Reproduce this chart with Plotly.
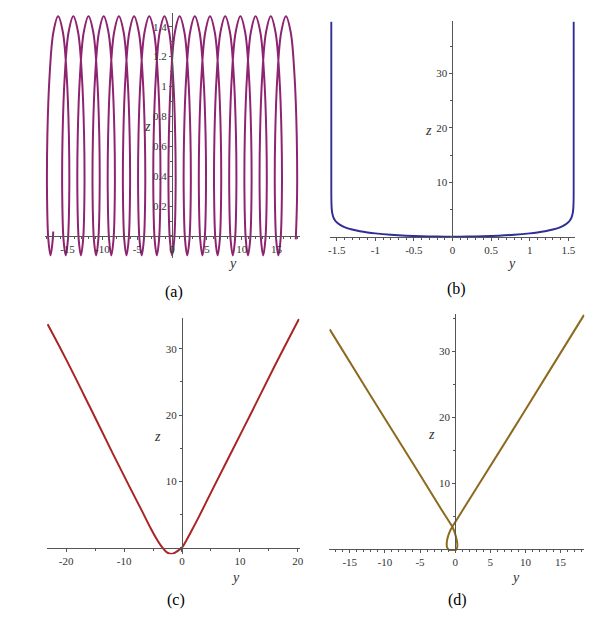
import plotly.graph_objects as go

# ---------------- data ----------------
# (a) looping curve
y_a = [
    -17.05, -17.121,
    -17.44, -17.758, -17.943, -17.895, -17.579, -17.032, -16.35, -15.668, -15.12, -14.805, -14.757, -14.941,
    -15.26, -15.578, -15.763, -15.715, -15.399, -14.852, -14.17, -13.488, -12.94, -12.625, -12.577, -12.761,
    -13.08, -13.398, -13.583, -13.535, -13.219, -12.672, -11.99, -11.308, -10.76, -10.445, -10.397, -10.581,
    -10.90, -11.218, -11.403, -11.355, -11.039, -10.492, -9.81, -9.128, -8.58, -8.265, -8.217, -8.401,
    -8.72, -9.038, -9.223, -9.175, -8.859, -8.312, -7.63, -6.948, -6.40, -6.085, -6.037, -6.221,
    -6.54, -6.858, -7.043, -6.995, -6.679, -6.132, -5.45, -4.768, -4.22, -3.905, -3.857, -4.041,
    -4.36, -4.678, -4.863, -4.815, -4.499, -3.952, -3.27, -2.588, -2.04, -1.725, -1.677, -1.861,
    -2.18, -2.498, -2.683, -2.635, -2.319, -1.772, -1.09, -0.408, 0.14, 0.455, 0.503, 0.319,
    0.0, -0.318, -0.503, -0.455, -0.139, 0.408, 1.09, 1.772, 2.32, 2.635, 2.683, 2.499,
    2.18, 1.862, 1.677, 1.725, 2.041, 2.588, 3.27, 3.952, 4.50, 4.815, 4.863, 4.679,
    4.36, 4.042, 3.857, 3.905, 4.221, 4.768, 5.45, 6.132, 6.68, 6.995, 7.043, 6.859,
    6.54, 6.222, 6.037, 6.085, 6.401, 6.948, 7.63, 8.312, 8.86, 9.175, 9.223, 9.039,
    8.72, 8.402, 8.217, 8.265, 8.581, 9.128, 9.81, 10.492, 11.04, 11.355, 11.403, 11.219,
    10.90, 10.582, 10.397, 10.445, 10.761, 11.308, 11.99, 12.672, 13.22, 13.535, 13.583, 13.399,
    13.08, 12.762, 12.577, 12.625, 12.941, 13.488, 14.17, 14.852, 15.40, 15.715, 15.763, 15.579,
    15.26, 14.942, 14.757, 14.805, 15.121, 15.668, 16.35, 17.032, 17.58, 17.895, 17.943, 17.759,
]
z_a = [
    0.03, -0.023,
    -0.13, -0.023, 0.27, 0.67, 1.07, 1.363, 1.47, 1.363, 1.07, 0.67, 0.27, -0.023,
    -0.13, -0.023, 0.27, 0.67, 1.07, 1.363, 1.47, 1.363, 1.07, 0.67, 0.27, -0.023,
    -0.13, -0.023, 0.27, 0.67, 1.07, 1.363, 1.47, 1.363, 1.07, 0.67, 0.27, -0.023,
    -0.13, -0.023, 0.27, 0.67, 1.07, 1.363, 1.47, 1.363, 1.07, 0.67, 0.27, -0.023,
    -0.13, -0.023, 0.27, 0.67, 1.07, 1.363, 1.47, 1.363, 1.07, 0.67, 0.27, -0.023,
    -0.13, -0.023, 0.27, 0.67, 1.07, 1.363, 1.47, 1.363, 1.07, 0.67, 0.27, -0.023,
    -0.13, -0.023, 0.27, 0.67, 1.07, 1.363, 1.47, 1.363, 1.07, 0.67, 0.27, -0.023,
    -0.13, -0.023, 0.27, 0.67, 1.07, 1.363, 1.47, 1.363, 1.07, 0.67, 0.27, -0.023,
    -0.13, -0.023, 0.27, 0.67, 1.07, 1.363, 1.47, 1.363, 1.07, 0.67, 0.27, -0.023,
    -0.13, -0.023, 0.27, 0.67, 1.07, 1.363, 1.47, 1.363, 1.07, 0.67, 0.27, -0.023,
    -0.13, -0.023, 0.27, 0.67, 1.07, 1.363, 1.47, 1.363, 1.07, 0.67, 0.27, -0.023,
    -0.13, -0.023, 0.27, 0.67, 1.07, 1.363, 1.47, 1.363, 1.07, 0.67, 0.27, -0.023,
    -0.13, -0.023, 0.27, 0.67, 1.07, 1.363, 1.47, 1.363, 1.07, 0.67, 0.27, -0.023,
    -0.13, -0.023, 0.27, 0.67, 1.07, 1.363, 1.47, 1.363, 1.07, 0.67, 0.27, -0.023,
    -0.13, -0.023, 0.27, 0.67, 1.07, 1.363, 1.47, 1.363, 1.07, 0.67, 0.27, -0.023,
    -0.13, -0.023, 0.27, 0.67, 1.07, 1.363, 1.47, 1.363, 1.07, 0.67, 0.27, -0.023,
]

# (b) U-shaped curve
y_b = [-1.5708, -1.5704, -1.569, -1.565, -1.555, -1.54, -1.52, -1.5, -1.45, -1.4, -1.3, -1.2,
       -1.1, -1.0, -0.8, -0.6, -0.4, -0.2, 0.0, 0.2, 0.4, 0.6, 0.8, 1.0, 1.1, 1.2, 1.3, 1.4,
       1.45, 1.5, 1.52, 1.54, 1.555, 1.565, 1.569, 1.5704, 1.5708]
z_b = [39.5, 7.83, 6.32, 5.15, 4.15, 3.48, 2.98, 2.65, 2.12, 1.77, 1.32, 1.015,
       0.79, 0.616, 0.361, 0.192, 0.082, 0.020, 0.0, 0.020, 0.082, 0.192, 0.361, 0.616, 0.79,
       1.015, 1.32, 1.77, 2.12, 2.65, 2.98, 3.48, 4.15, 5.15, 6.32, 7.83, 39.5]

# (c) V-shaped curve
y_c = [-23.2, -20.0, -16.0, -12.0, -9.0, -7.0, -5.5, -4.5, -3.5, -2.6, -1.9, -1.2, -0.6, 0.0,
       0.7, 1.5, 3.0, 5.0, 8.0, 12.0, 16.0, 20.2]
z_c = [33.7, 28.4, 21.4, 14.3, 9.1, 5.7, 3.1, 1.5, 0.15, -0.7, -0.95, -0.75, -0.4, 0.0,
       1.0, 2.3, 4.8, 8.3, 13.5, 20.4, 27.4, 34.5]

# (d) V-shaped curve with a loop
y_d = [-17.85, -12.0, -6.0, -2.0, -0.8, -0.4, -0.05, 0.22, 0.32, 0.2, -0.1, -0.5, -0.9,
       -1.15, -1.2, -1.05, -0.75, -0.4, 0.0, 1.0, 3.0, 8.0, 13.0, 18.35]
z_d = [33.3, 23.2, 13.0, 6.1, 4.1, 3.4, 2.5, 1.4, 0.6, 0.0, -0.2, -0.22, -0.1,
       0.3, 0.9, 1.8, 2.7, 3.4, 4.1, 5.8, 9.2, 17.7, 26.3, 35.5]

colors = {"a": "#8E2470", "b": "#2E2E96", "c": "#AA2424", "d": "#8C6A1E"}

# ---------------- layout helpers ----------------
OFF = 8                      # default page body margin
W, H = 611 - 2 * OFF, 620 - 2 * OFF
SERIF = "Times New Roman, Liberation Serif, serif"
AX = "#555555"


def px_x(px):
    return (px - OFF) / W


def px_y(py):
    return 1 - (py - OFF) / H


def xdom(left, right):
    return [px_x(left), px_x(right)]


def ydom(top, bottom):
    return [px_y(bottom), px_y(top)]


panels = {
    # name: (px box left,right,top,bottom in reference pixels), x range, z range
    "a": ((42.9, 300.5, 13.2, 258.4), [-18.3, 18.3], [-0.15, 1.49]),
    "b": ((331.4, 578.6, 21.3, 238.9), [-1.585, 1.585], [-0.4, 39.6]),
    "c": ((45.4, 300.5, 318.3, 554.3), [-23.3, 20.3], [-1.0, 34.6]),
    "d": ((330.6, 588.3, 314.2, 550.9), [-17.9, 18.4], [-0.25, 35.6]),
}

xticks = {
    "a": ([-15, -10, -5, 0, 5, 10, 15], 1),
    "b": ([-1.5, -1, -0.5, 0, 0.5, 1, 1.5], 0.1),
    "c": ([-20, -10, 0, 10, 20], 5),
    "d": ([-15, -10, -5, 0, 5, 10, 15], 1),
}
zticks = {
    "a": ([0.2, 0.4, 0.6, 0.8, 1, 1.2, 1.4], 0.1),
    "b": ([10, 20, 30], 5),
    "c": ([10, 20, 30], 5),
    "d": ([10, 20, 30], 5),
}

data = {"a": (y_a, z_a), "b": (y_b, z_b), "c": (y_c, z_c), "d": (y_d, z_d)}

fig = go.Figure()
layout = dict(width=W, height=H, margin=dict(l=0, r=0, t=0, b=0),
              paper_bgcolor="white", plot_bgcolor="white", showlegend=False)
annotations = []

for i, key in enumerate(["a", "b", "c", "d"]):
    n = "" if i == 0 else str(i + 1)
    (l, r, t, b), xr, zr = panels[key]
    xd = xdom(l, r)
    yd = ydom(t, b)
    ypos = yd[0] + (0 - zr[0]) / (zr[1] - zr[0]) * (yd[1] - yd[0])
    xpos = xd[0] + (0 - xr[0]) / (xr[1] - xr[0]) * (xd[1] - xd[0])
    xt, xminor = xticks[key]
    zt, zminor = zticks[key]
    layout["xaxis" + n] = dict(
        domain=xd, range=xr, anchor="free", position=ypos,
        showline=True, linecolor=AX, linewidth=1, showgrid=False, zeroline=False,
        ticks="outside", ticklen=3, tickcolor=AX, tickwidth=1,
        tickvals=xt, ticktext=["%g" % v for v in xt],
        tickfont=dict(family=SERIF, size=11, color="#333333"),
        minor=dict(dtick=xminor, tick0=0, ticks="outside", ticklen=2, tickcolor=AX, showgrid=False),
        fixedrange=True,
    )
    layout["yaxis" + n] = dict(
        domain=yd, range=zr, anchor="free", position=xpos,
        showline=True, linecolor=AX, linewidth=1, showgrid=False, zeroline=False,
        ticks="outside", ticklen=3, tickcolor=AX, tickwidth=1,
        tickvals=zt, ticktext=["%g" % v for v in zt],
        tickfont=dict(family=SERIF, size=11, color="#333333"),
        minor=dict(dtick=zminor, tick0=0, ticks="outside", ticklen=2, tickcolor=AX, showgrid=False),
        fixedrange=True,
    )
    yy, zz = data[key]
    fig.add_trace(go.Scatter(
        x=yy, y=zz, mode="lines", xaxis="x" + n, yaxis="y" + n,
        line=dict(color=colors[key], width=2, shape="spline", smoothing=1.0),
        hoverinfo="skip",
    ))

# axis titles (Maple style) and captions
labels = [
    ("z", 147, 126), ("y", 233, 264),
    ("z", 431, 131), ("y", 515, 264),
    ("z", 157, 436), ("y", 236, 577),
    ("z", 434, 434), ("y", 519, 577),
]
for txt, px, py in labels:
    annotations.append(dict(text="<i>%s</i>" % txt, x=px_x(px), y=px_y(py), xref="paper", yref="paper",
                            showarrow=False, xanchor="center", yanchor="middle",
                            font=dict(family=SERIF, size=14, color="#333333")))

captions = [("(a)", 174, 292), ("(b)", 459, 289), ("(c)", 176, 600), ("(d)", 460, 600)]
for txt, px, py in captions:
    annotations.append(dict(text=txt, x=px_x(px), y=px_y(py), xref="paper", yref="paper",
                            showarrow=False, xanchor="center", yanchor="middle",
                            font=dict(family=SERIF, size=16, color="black")))

layout["annotations"] = annotations
fig.update_layout(**layout)
fig.write_html("out.html")
